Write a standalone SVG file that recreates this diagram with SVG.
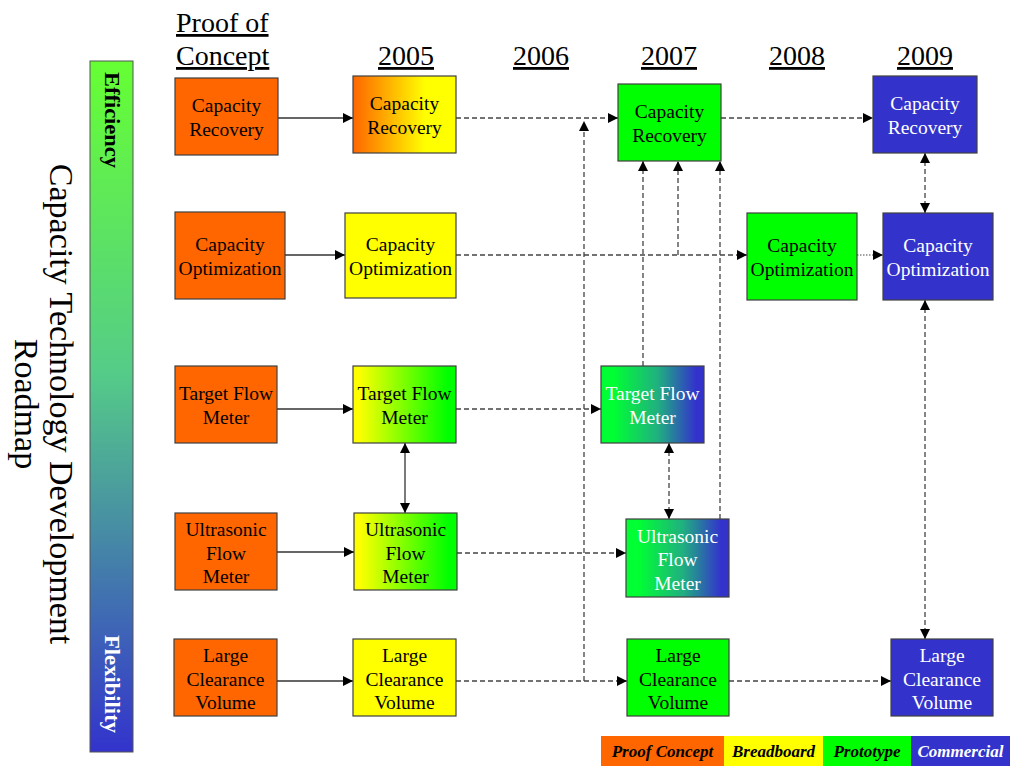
<svg xmlns="http://www.w3.org/2000/svg" width="1010" height="766" viewBox="0 0 1010 766">
<defs>
<style>
text{font-family:"Liberation Serif","Times New Roman",serif}
.box{stroke:#404040;stroke-width:1.2}
.t{font-size:19.5px;text-anchor:middle;fill:#000}
.w{fill:#fff}
.hd{font-size:28px;text-decoration:underline;fill:#000}
.yr{text-anchor:middle}
.sol{fill:none;stroke:#333;stroke-width:1.3}
.dash{fill:none;stroke:#444;stroke-width:1.3;stroke-dasharray:5 3}
.dot{fill:none;stroke:#444;stroke-width:1;stroke-dasharray:1.5 1.5}
.lg{font-size:17px;font-weight:bold;font-style:italic;text-anchor:middle}
.bar{font-size:20px;font-weight:bold}
</style>
<marker id="ah" viewBox="0 0 10 10" refX="10" refY="5" markerWidth="11" markerHeight="10" markerUnits="userSpaceOnUse" orient="auto-start-reverse">
<path d="M0,0 L10,5 L0,10 z" fill="#000"/>
</marker>
<linearGradient id="gOY" x1="0" y1="0" x2="1" y2="0"><stop offset="0" stop-color="#FF6600"/><stop offset="0.7" stop-color="#FFFF00"/><stop offset="1" stop-color="#FFFF00"/></linearGradient>
<linearGradient id="gYG" x1="0" y1="0" x2="1" y2="0"><stop offset="0.05" stop-color="#FFFF00"/><stop offset="0.92" stop-color="#00FF00"/></linearGradient>
<linearGradient id="gGB" x1="0" y1="0" x2="1" y2="0"><stop offset="0.12" stop-color="#00FF33"/><stop offset="0.55" stop-color="#20B080"/><stop offset="0.92" stop-color="#3333CC"/></linearGradient>
<linearGradient id="gBar" x1="0" y1="0" x2="0" y2="1"><stop offset="0" stop-color="#66FF33"/><stop offset="0.45" stop-color="#55CC88"/><stop offset="1" stop-color="#3333CC"/></linearGradient>
</defs>
<rect width="1010" height="766" fill="#fff"/>

<g id="title">
<g transform="rotate(90)">
<text x="404" y="-50" font-size="34" text-anchor="middle">Capacity Technology Development</text>
<text x="404" y="-15" font-size="34" text-anchor="middle">Roadmap</text>
</g>
</g>

<g id="scale-bar">
<rect x="90" y="61" width="43" height="691" fill="url(#gBar)" stroke="#555" stroke-width="1"/>
<g transform="rotate(90)">
<text class="bar" x="72" y="-105" textLength="96" lengthAdjust="spacingAndGlyphs">Efficiency</text>
<text class="bar" x="635" y="-105" fill="#fff" textLength="98" lengthAdjust="spacingAndGlyphs">Flexibility</text>
</g>
</g>

<g id="headers">
<text class="hd" x="176" y="32">Proof of</text>
<text class="hd" x="176" y="65">Concept</text>
<text class="hd yr" x="406" y="65">2005</text>
<text class="hd yr" x="541" y="65">2006</text>
<text class="hd yr" x="669" y="65">2007</text>
<text class="hd yr" x="797" y="65">2008</text>
<text class="hd yr" x="925" y="65">2009</text>
</g>

<g id="connectors">
<path class="sol" d="M278,118 H353" marker-end="url(#ah)"/>
<path class="dash" d="M456,118 H618" marker-end="url(#ah)"/>
<path class="dash" d="M721,118 H873" marker-end="url(#ah)"/>
<path class="sol" d="M285,255 H345" marker-end="url(#ah)"/>
<path class="dash" d="M456,255 H747" marker-end="url(#ah)"/>
<path class="dot" d="M857,255 H883" marker-end="url(#ah)"/>
<path class="sol" d="M277,409 H353" marker-end="url(#ah)"/>
<path class="dash" d="M456,409 H601" marker-end="url(#ah)"/>
<path class="sol" d="M277,552 H354" marker-end="url(#ah)"/>
<path class="dash" d="M457,553 H626" marker-end="url(#ah)"/>
<path class="sol" d="M277,681 H353" marker-end="url(#ah)"/>
<path class="dash" d="M456,681 H627" marker-end="url(#ah)"/>
<path class="dash" d="M729,681 H891" marker-end="url(#ah)"/>
<path class="dash" d="M584,681 V121" marker-end="url(#ah)"/>
<path class="dash" d="M678,255 V161" marker-end="url(#ah)"/>
<path class="dash" d="M643,366 V161" marker-end="url(#ah)"/>
<path class="dash" d="M720,519 V161" marker-end="url(#ah)"/>
<path class="dash" d="M925,153 V213" marker-start="url(#ah)" marker-end="url(#ah)"/>
<path class="dash" d="M925,300 V639" marker-start="url(#ah)" marker-end="url(#ah)"/>
<path class="sol" d="M405,443 V513" marker-start="url(#ah)" marker-end="url(#ah)"/>
<path class="dash" d="M669,443 V519" marker-start="url(#ah)" marker-end="url(#ah)"/>
</g>

<g id="poc-cr"><rect class="box" x="175" y="78" width="103" height="77" fill="#FF6600"/>
<text class="t" x="226.5" y="112">Capacity</text><text class="t" x="226.5" y="135.5">Recovery</text></g>
<g id="y2005-cr"><rect class="box" x="353" y="76" width="103" height="77" fill="url(#gOY)"/>
<text class="t" x="404.5" y="110">Capacity</text><text class="t" x="404.5" y="133.5">Recovery</text></g>
<g id="y2007-cr"><rect class="box" x="618" y="84" width="103" height="77" fill="#00FF00"/>
<text class="t" x="669.5" y="118">Capacity</text><text class="t" x="669.5" y="141.5">Recovery</text></g>
<g id="y2009-cr"><rect class="box" x="873" y="76" width="104" height="77" fill="#3333CC"/>
<text class="t w" x="925" y="110">Capacity</text><text class="t w" x="925" y="133.5">Recovery</text></g>

<g id="poc-co"><rect class="box" x="175" y="212" width="110" height="87" fill="#FF6600"/>
<text class="t" x="230" y="251">Capacity</text><text class="t" x="230" y="274.5">Optimization</text></g>
<g id="y2005-co"><rect class="box" x="345" y="213" width="111" height="85" fill="#FFFF00"/>
<text class="t" x="400.5" y="251">Capacity</text><text class="t" x="400.5" y="274.5">Optimization</text></g>
<g id="y2008-co"><rect class="box" x="747" y="213" width="110" height="87" fill="#00FF00"/>
<text class="t" x="802" y="252">Capacity</text><text class="t" x="802" y="275.5">Optimization</text></g>
<g id="y2009-co"><rect class="box" x="883" y="213" width="110" height="87" fill="#3333CC"/>
<text class="t w" x="938" y="252">Capacity</text><text class="t w" x="938" y="275.5">Optimization</text></g>

<g id="poc-tfm"><rect class="box" x="175" y="366" width="102" height="77" fill="#FF6600"/>
<text class="t" x="226" y="400">Target Flow</text><text class="t" x="226" y="423.5">Meter</text></g>
<g id="y2005-tfm"><rect class="box" x="353" y="366" width="103" height="77" fill="url(#gYG)"/>
<text class="t" x="404.5" y="400">Target Flow</text><text class="t" x="404.5" y="423.5">Meter</text></g>
<g id="y2007-tfm"><rect class="box" x="601" y="366" width="103" height="77" fill="url(#gGB)"/>
<text class="t w" x="652.5" y="400">Target Flow</text><text class="t w" x="652.5" y="423.5">Meter</text></g>

<g id="poc-ufm"><rect class="box" x="175" y="513" width="102" height="77" fill="#FF6600"/>
<text class="t" x="226" y="536">Ultrasonic</text><text class="t" x="226" y="559.5">Flow</text><text class="t" x="226" y="583">Meter</text></g>
<g id="y2005-ufm"><rect class="box" x="354" y="513" width="103" height="77" fill="url(#gYG)"/>
<text class="t" x="405.5" y="536">Ultrasonic</text><text class="t" x="405.5" y="559.5">Flow</text><text class="t" x="405.5" y="583">Meter</text></g>
<g id="y2007-ufm"><rect class="box" x="626" y="519" width="103" height="78" fill="url(#gGB)"/>
<text class="t w" x="677.5" y="542.5">Ultrasonic</text><text class="t w" x="677.5" y="566">Flow</text><text class="t w" x="677.5" y="589.5">Meter</text></g>

<g id="poc-lcv"><rect class="box" x="174" y="639" width="103" height="77" fill="#FF6600"/>
<text class="t" x="225.5" y="662">Large</text><text class="t" x="225.5" y="685.5">Clearance</text><text class="t" x="225.5" y="709">Volume</text></g>
<g id="y2005-lcv"><rect class="box" x="353" y="639" width="103" height="77" fill="#FFFF00"/>
<text class="t" x="404.5" y="662">Large</text><text class="t" x="404.5" y="685.5">Clearance</text><text class="t" x="404.5" y="709">Volume</text></g>
<g id="y2007-lcv"><rect class="box" x="627" y="639" width="102" height="77" fill="#00FF00"/>
<text class="t" x="678" y="662">Large</text><text class="t" x="678" y="685.5">Clearance</text><text class="t" x="678" y="709">Volume</text></g>
<g id="y2009-lcv"><rect class="box" x="891" y="639" width="102" height="77" fill="#3333CC"/>
<text class="t w" x="942" y="662">Large</text><text class="t w" x="942" y="685.5">Clearance</text><text class="t w" x="942" y="709">Volume</text></g>

<g id="legend">
<rect x="601" y="736" width="123" height="30" fill="#FF6600"/>
<rect x="724" y="736" width="99" height="30" fill="#FFFF00"/>
<rect x="823" y="736" width="88" height="30" fill="#00FF00"/>
<rect x="911" y="736" width="99" height="30" fill="#3333CC"/>
<text class="lg" x="662.5" y="757">Proof Concept</text>
<text class="lg" x="773.5" y="757">Breadboard</text>
<text class="lg" x="867" y="757">Prototype</text>
<text class="lg" x="960.5" y="757" fill="#fff">Commercial</text>
</g>
</svg>
